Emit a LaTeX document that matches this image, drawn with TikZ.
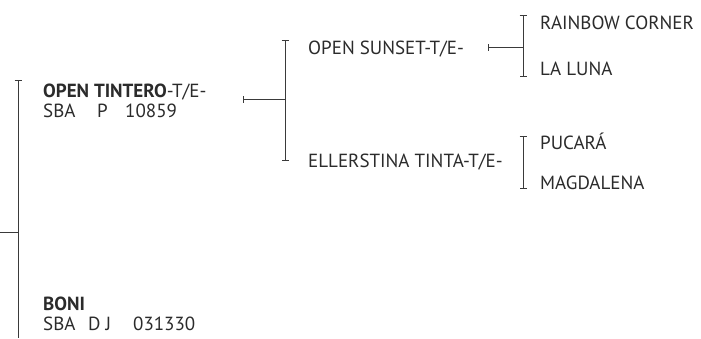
\documentclass[tikz,border=0pt]{standalone}
\usepackage{fontspec}
\setmainfont{PT Sans}
\usetikzlibrary{arrows.meta,positioning}
\definecolor{ink}{HTML}{2B2B2B}
\definecolor{rule}{HTML}{3A3A3A}
\tikzset{line width=.9pt,
  every node/.style={font=\fontsize{19}{20}\selectfont,text=ink},
  horse/.style={anchor=base west,inner sep=0pt,align=left},
  bracket/.style={draw=rule,{Bar[width=7pt]}-{Bar[width=7pt]}},
  link/.style={draw=rule,{Bar[width=7pt]}-}}

\begin{document}
\begin{tikzpicture}[x=1pt,y=-1pt]
\useasboundingbox(0,0)rectangle(701,338);
\node[horse](tintero)at(43,117){\textbf{OPEN TINTERO}-T/E-\\\makebox[54pt][l]{SBA}\makebox[28pt][l]{P}10859};
\node[horse](boni)at(43,330){\textbf{BONI}\\\makebox[45pt][l]{SBA}\makebox[45pt][l]{D J}031330};
\node[horse](sunset)at(308,54){OPEN SUNSET-T/E-};
\node[horse](ellerstina)at(308,167){ELLERSTINA TINTA-T/E-};
\node[horse](rainbow)at(540,29){RAINBOW CORNER};\node[horse](luna)at(540,75){LA LUNA};
\node[horse](pucara)at(540,149){PUCARÁ};\node[horse](magdalena)at(540,189){MAGDALENA};
% sire and dam brackets
\coordinate(root)at(0,232);\coordinate(rootbar)at(18,232);
\draw[draw=rule](root)--(rootbar);\draw[draw=rule,{Bar[width=7pt]}-](18,80)--(18,338);
\coordinate(tinterotip)at(243,99);\coordinate(tinterobar)at(285,99);
\draw[link](tinterotip)--(tinterobar);\draw[bracket](285,40)--(285,160);
\coordinate(sunsettip)at(488,47);\coordinate(sunsetbar)at(523,47);
\draw[link](sunsettip)--(sunsetbar);\draw[bracket](523,15)--(523,76);
\draw[bracket](523,136)--(523,188);
\end{tikzpicture}
\end{document}
